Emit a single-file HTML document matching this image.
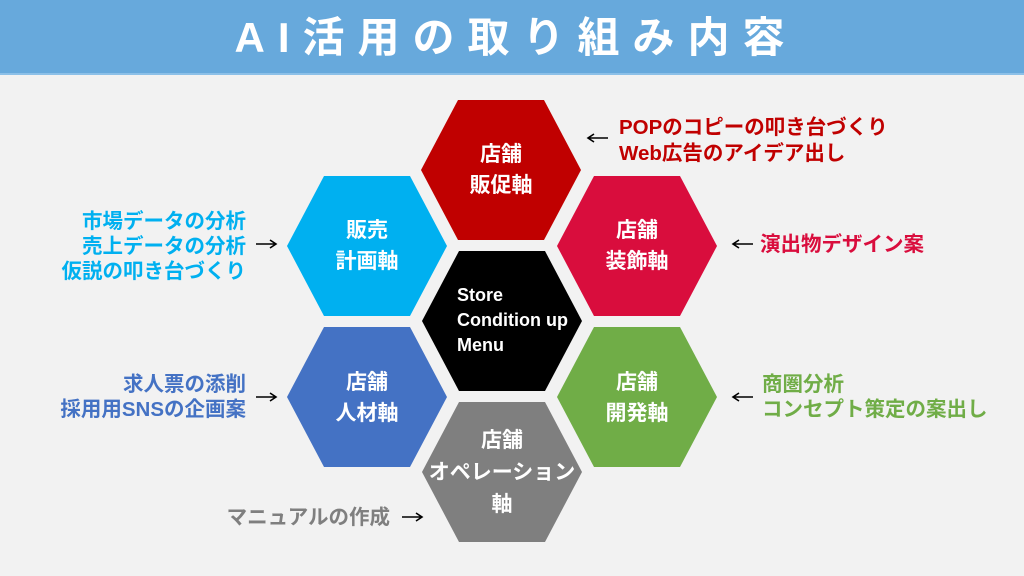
<!DOCTYPE html>
<html><head><meta charset="utf-8"><style>
html,body{margin:0;padding:0;width:1024px;height:576px;overflow:hidden;background:#f2f2f2;}
svg{display:block}
text{font-family:"Liberation Sans","Noto Sans CJK JP",sans-serif;font-weight:bold;}
</style></head><body>
<svg width="1024" height="576" viewBox="0 0 1024 576">
<rect x="0" y="0" width="1024" height="73" fill="#67a9dc"/>
<rect x="0" y="73" width="1024" height="2" fill="#8cc0e8"/>
<text x="516" y="52" font-size="42" fill="#fff" text-anchor="middle" letter-spacing="13">AI活用の取り組み内容</text>
<defs>
<polygon id="h" points="-80,0 -43,-70 43,-70 80,0 43,70 -43,70"/>
</defs>
<use href="#h" x="501" y="170" fill="#c00000"/>
<use href="#h" x="367" y="246" fill="#00b0f0"/>
<use href="#h" x="637" y="246" fill="#d90d3d"/>
<use href="#h" x="502" y="321" fill="#000"/>
<use href="#h" x="367" y="397" fill="#4472c4"/>
<use href="#h" x="637" y="397" fill="#70ad47"/>
<use href="#h" x="502" y="472" fill="#7f7f7f"/>
<g fill="#fff" font-size="21" text-anchor="middle">
<text x="501" y="161">店舗</text><text x="501" y="192">販促軸</text>
<text x="367" y="237">販売</text><text x="367" y="268">計画軸</text>
<text x="637" y="237">店舗</text><text x="637" y="268">装飾軸</text>
<text x="367" y="389">店舗</text><text x="367" y="420">人材軸</text>
<text x="637" y="389">店舗</text><text x="637" y="420">開発軸</text>
<text x="502" y="447">店舗</text><text x="502" y="479">オペレーション</text><text x="502" y="511">軸</text>
</g>
<g fill="#fff" font-size="18">
<text x="457" y="301">Store</text><text x="457" y="326">Condition up</text><text x="457" y="351">Menu</text>
</g>
<g font-size="20.5">
<text x="619" y="134" fill="#c00000">POPのコピーの叩き台づくり</text>
<text x="619" y="160" fill="#c00000">Web広告のアイデア出し</text>
<text x="760" y="251" fill="#d90d3d">演出物デザイン案</text>
<text x="246" y="228" fill="#00b0f0" text-anchor="end">市場データの分析</text>
<text x="246" y="253" fill="#00b0f0" text-anchor="end">売上データの分析</text>
<text x="246" y="278" fill="#00b0f0" text-anchor="end">仮説の叩き台づくり</text>
<text x="246" y="391" fill="#4472c4" text-anchor="end">求人票の添削</text>
<text x="246" y="416" fill="#4472c4" text-anchor="end">採用用SNSの企画案</text>
<text x="762" y="391" fill="#70ad47">商圏分析</text>
<text x="762" y="416" fill="#70ad47">コンセプト策定の案出し</text>
<text x="390" y="524" fill="#7f7f7f" text-anchor="end">マニュアルの作成</text>
</g>
<g stroke="#000" stroke-width="1.6" fill="none">
<path d="M608 138 H588 M594 134 L588 138 L594 142"/>
<path d="M753 244 H733 M739 240 L733 244 L739 248"/>
<path d="M753 397 H733 M739 393 L733 397 L739 401"/>
<path d="M256 244 H276 M270 240 L276 244 L270 248"/>
<path d="M256 397 H276 M270 393 L276 397 L270 401"/>
<path d="M402 517 H422 M416 513 L422 517 L416 521"/>
</g>
</svg>
</body></html>
